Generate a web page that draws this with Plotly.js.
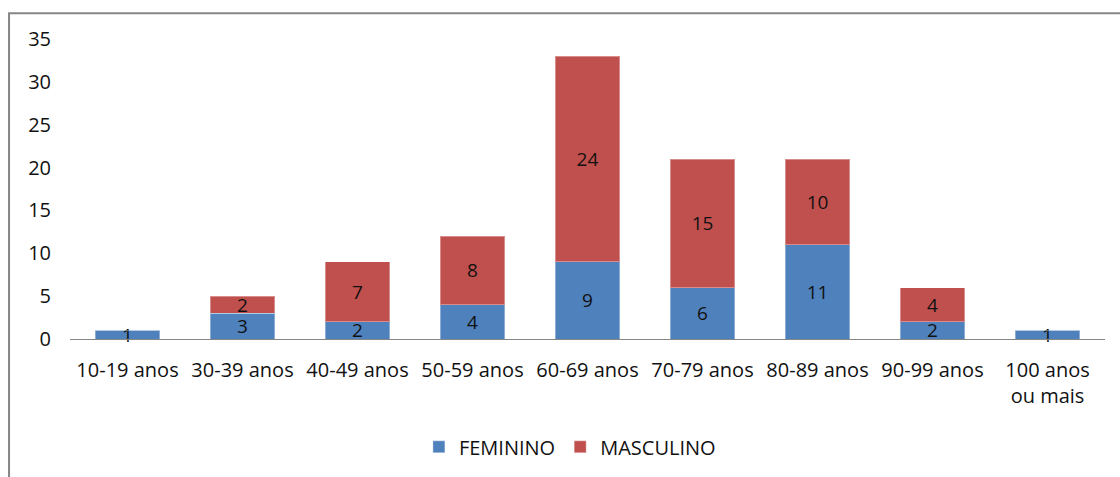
<!DOCTYPE html>
<html>
<head>
<meta charset="utf-8">
<script src="https://cdn.plot.ly/plotly-3.0.1.min.js"></script>
<style>
  html, body { margin: 0; padding: 0; background: #fff; }
  #chart { width: 1120px; height: 477px; }
</style>
</head>
<body>
<div id="chart"></div>
<script>
const categories = ["10-19 anos", "30-39 anos", "40-49 anos", "50-59 anos", "60-69 anos", "70-79 anos", "80-89 anos", "90-99 anos", "100 anos<br>ou mais"];
const feminino = [1, 3, 2, 4, 9, 6, 11, 2, 1];
const masculino = [0, 2, 7, 8, 24, 15, 10, 4, 0];
const yTicks = [0, 5, 10, 15, 20, 25, 30, 35];

const FONT = "Open Sans, Noto Sans, sans-serif";
const FS = 20;
const labels = v => v.map(x => x === 0 ? "" : String(x));

const common = {
  type: "bar",
  x: categories,
  textposition: "inside",
  insidetextanchor: "middle",
  textangle: 0,
  constraintext: "none",
  cliponaxis: false,
  textfont: { family: FONT, size: 19, color: "#111" },
  hoverinfo: "skip"
};

const traces = [
  Object.assign({}, common, {
    name: "FEMININO",
    y: feminino,
    text: labels(feminino),
    marker: { color: "#4F81BD", line: { color: "rgba(255,255,255,0.35)", width: 1 } }
  }),
  Object.assign({}, common, {
    name: "MASCULINO",
    y: masculino,
    text: labels(masculino),
    marker: { color: "#C0504D", line: { color: "rgba(255,255,255,0.35)", width: 1 } }
  })
];

const layout = {
  width: 1120,
  height: 477,
  margin: { l: 70, r: 15, t: 39, b: 137 },
  paper_bgcolor: "#fff",
  plot_bgcolor: "#fff",
  barmode: "stack",
  bargap: 0.435,
  font: { family: FONT, size: FS, color: "#111" },
  showlegend: true,
  legend: {
    orientation: "h",
    x: 0.483, xanchor: "center",
    y: -0.355, yanchor: "middle",
    font: { family: FONT, size: FS, color: "#111" },
    itemwidth: 30,
    traceorder: "normal"
  },
  xaxis: {
    type: "category",
    range: [-0.5, 8.5],
    showline: true,
    linecolor: "#868686",
    linewidth: 1,
    ticks: "",
    showgrid: false,
    zeroline: false,
    tickfont: { family: FONT, size: FS, color: "#111" },
    ticklabelstandoff: 13
  },
  yaxis: {
    range: [0, 35],
    tickvals: yTicks,
    ticktext: yTicks.map(String),
    showgrid: false,
    zeroline: false,
    showline: false,
    ticks: "",
    tickfont: { family: FONT, size: FS, color: "#111" },
    ticklabelstandoff: 18
  },
  shapes: [{
    type: "rect",
    xref: "paper", yref: "paper",
    x0: -0.0589, x1: 1.02,
    y0: -0.47, y1: 1.0858,
    line: { color: "#868686", width: 2 },
    fillcolor: "rgba(0,0,0,0)",
    layer: "below"
  }]
};

Plotly.newPlot("chart", traces, layout, { staticPlot: true, displayModeBar: false });
</script>
</body>
</html>
